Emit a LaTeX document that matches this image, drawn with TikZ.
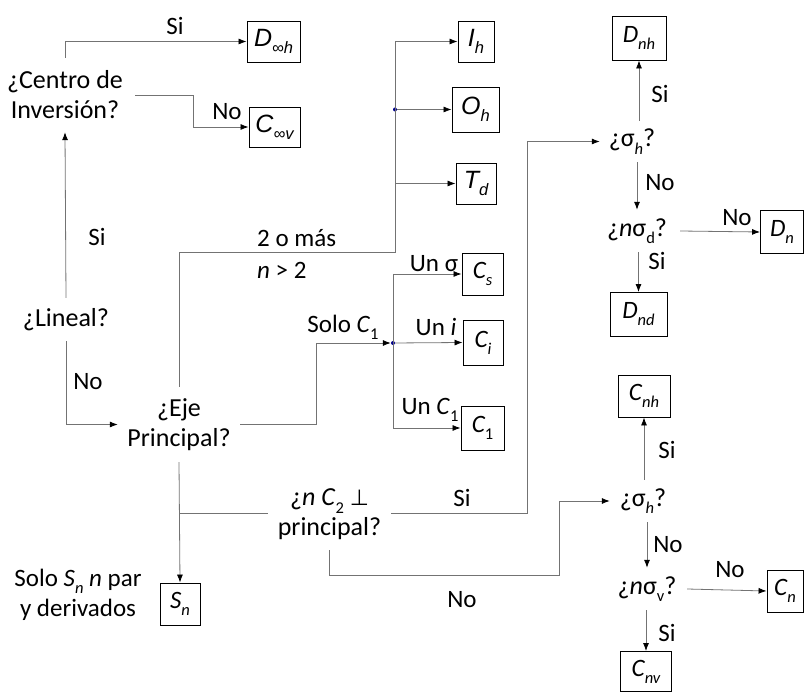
\documentclass[tikz,border=0pt]{standalone}
\usepackage{fontspec}
\setmainfont{Carlito}
\newfontfamily\arialf{Liberation Sans}
\newfontfamily\symf{DejaVu Sans}
\usetikzlibrary{arrows.meta,calc}

% lowered small text for subscripts
\newcommand{\lowsub}[1]{\raisebox{-0.28em}{\fontsize{16.5}{16.5}\selectfont #1}}

\tikzset{
  res/.style={draw=black, line width=0.9pt, inner sep=0pt, minimum height=42pt,
    font=\fontsize{25}{27}\selectfont\itshape},
  ask/.style={inner sep=0pt, align=center, font=\fontsize{26}{30}\selectfont},
  lbl/.style={inner sep=0pt, font=\fontsize{25}{28}\selectfont},
  conn/.style={draw=black!55, line width=0.8pt},
  arr/.style={conn, -{Latex[length=8pt,width=6pt,color=black]}},
  hub/.style={fill=blue!55!black, draw=none, circle, inner sep=0pt, minimum size=4pt}
}

\begin{document}
\begin{tikzpicture}[x=1pt,y=-1pt]
\useasboundingbox (0,0) rectangle (804,692);

% ---- question nodes (fixed frames so the connectors meet them cleanly) ----
\node[ask, minimum width=140pt, minimum height=74pt] (centro) at (65,95) {¿Centro de\\Inversión?};
\node[ask, minimum width=90pt, minimum height=43pt] (lineal) at (66,319.5) {¿Lineal?};
\node[ask, minimum width=122pt, minimum height=75pt] (eje) at (179,424.5) {¿Eje\\Principal?};
\node[ask, minimum width=123pt, minimum height=71pt] (nc) at (329.5,514.5) {¿\textit{n C}\lowsub{2} {\symf\fontsize{22}{22}\selectfont ⊥}\\principal?};
\node[ask, minimum width=64pt, minimum height=41pt] (sa) at (632,141.5) {¿σ\lowsub{\textit{h}}?};
\node[ask, minimum width=86pt, minimum height=42pt] (sd) at (637,231) {¿\textit{n}σ\lowsub{d}?};
\node[ask, minimum width=66pt, minimum height=42pt] (sb) at (643,501) {¿σ\lowsub{\textit{h}}?};
\node[ask, minimum width=80pt, minimum height=42pt] (sv) at (647,589) {¿\textit{n}σ\lowsub{v}?};

% ---- result boxes ----
\node[res, minimum width=53pt, minimum height=41pt] (Dinf) at (273.5,41.5) {{\arialf\itshape D}\lowsub{{\arialf ∞}\textit{\arialf h}}};
\node[res, minimum width=51pt, minimum height=40pt] (Cinf) at (274.5,127) {{\arialf\itshape C}\lowsub{{\arialf ∞}\textit{\arialf v}}};
\node[res, minimum width=36pt, minimum height=41pt] (Ih) at (476,41.5) {{\arialf\itshape I}\lowsub{\arialf\itshape h}};
\node[res, minimum width=47pt, minimum height=45pt] (Oh) at (475.5,109.5) {{\arialf\itshape O}\lowsub{\arialf\itshape h}};
\node[res, minimum width=40pt, minimum height=41pt] (Td) at (476,183.5) {{\arialf\itshape T}\lowsub{\arialf\itshape d}};
\node[res, minimum width=41pt, minimum height=42pt] (Cs) at (482.5,274) {C\lowsub{\textit{s}}};
\node[res, minimum width=40pt, minimum height=45pt] (Ci) at (483,342.5) {C\lowsub{\textit{i}}};
\node[res, minimum width=43pt, minimum height=44pt] (C1) at (482.5,428) {C\lowsub{\upshape 1}};
\node[res, minimum width=40pt, minimum height=42pt] (Sn) at (180,604) {S\lowsub{\textit{n}}};
\node[res, minimum width=54pt, minimum height=44pt] (Dnh) at (639,38) {D\lowsub{\textit{nh}}};
\node[res, minimum width=43pt, minimum height=43pt] (Dn) at (782,232) {D\lowsub{\textit{n}}};
\node[res, minimum width=57pt, minimum height=44pt] (Dnd) at (638.5,314.5) {D\lowsub{\textit{nd}}};
\node[res, minimum width=52pt, minimum height=42pt] (Cnh) at (644,396) {C\lowsub{\textit{nh}}};
\node[res, minimum width=36pt, minimum height=42pt] (Cn) at (785,591) {C\lowsub{\textit{n}}};
\node[res, minimum width=51pt, minimum height=40pt] (Cnv) at (646,671.5) {C\lowsub{\textit{nv}}};

% ---- junction points ----
\coordinate (up1) at (395,252);
\node[hub] (h1) at (up1 |- Oh) {};
\node[hub] (h2) at (393,343) {};
\coordinate (brk) at (180,513);

% ---- connectors: linear branch ----
\draw[arr] (lineal.north) -- (centro.south);
\draw[arr] (centro.north) |- (Dinf.west);
\draw[arr] (centro.east) -- ++(58,0) |- (Cinf.west);
\draw[arr] (lineal.south) |- (eje.west);

% ---- principal axis: n > 2 ----
\draw[conn] (eje.north) |- (up1) -- (up1 |- Ih);
\draw[arr] (up1 |- Ih) -- (Ih.west);
\draw[arr] (h1) -- (Oh.west);
\draw[arr] (up1 |- Td) -- (Td.west);

% ---- only C1 ----
\draw[arr] (eje.east) -- ++(76,0) |- (h2);
\draw[conn] (h2 |- Cs) -- (h2 |- C1);
\draw[arr] (h2 |- Cs) -- (Cs.west);
\draw[arr] (h2) -- (Ci.west);
\draw[arr] (h2 |- C1) -- (C1.west);

% ---- principal axis downwards ----
\draw[arr] (eje.south) -- (Sn.north);
\draw[conn] (brk) -- (brk -| nc.west);
\draw[arr] (brk -| nc.east) -- ++(136,0) |- (sa.west);
\draw[arr] (nc.south) |- ++(230,25) |- (sb.west);

% ---- D groups ----
\draw[arr] (Dnh |- sa.north) -- (Dnh.south);
\draw[arr] (sa.south -| sd) -- (sd.north);
\draw[arr] (sd.east) -- (Dn.west);
\draw[arr] (sd.south -| Dnd) -- (Dnd.north);

% ---- C groups ----
\draw[arr] (Cnh |- sb.north) -- (Cnh.south);
\draw[arr] (sb.south -| sv) -- (sv.north);
\draw[arr] (sv.east) -- (Cn.west);
\draw[arr] (sv.south -| Cnv) -- (Cnv.north);

% ---- branch labels ----
\node[lbl] (l1) at (175,26) {Si};
\node[lbl] (l2) at (227,112) {No};
\node[lbl] (l3) at (97,237) {Si};
\node[lbl] (l4) at (88,382) {No};
\node[lbl, align=left, anchor=west, font=\fontsize{25}{32}\selectfont] (l5) at (257,254) {2 o más\\\textit{n} > 2};
\node[lbl] (l6) at (343,327) {Solo \textit{C}\lowsub{1}};
\node[lbl] (l7) at (434,264) {Un σ};
\node[lbl] (l8) at (436,327) {Un \textit{i}};
\node[lbl] (l9) at (430,410) {Un \textit{C}\lowsub{1}};
\node[lbl] (l10) at (462,498) {Si};
\node[lbl] (l11) at (462,600) {No};
\node[lbl, align=center, font=\fontsize{25}{30}\selectfont] (l12) at (78,595) {Solo \textit{S}\lowsub{\textit{n}} \textit{n} par\\y derivados};
\node[lbl] (l13) at (660,94) {Si};
\node[lbl] (l14) at (660,183) {No};
\node[lbl] (l15) at (737,218) {No};
\node[lbl] (l16) at (657,261) {Si};
\node[lbl] (l17) at (667,450) {Si};
\node[lbl] (l18) at (668,545) {No};
\node[lbl] (l19) at (730,570) {No};
\node[lbl] (l20) at (667,633) {Si};
\end{tikzpicture}
\end{document}
